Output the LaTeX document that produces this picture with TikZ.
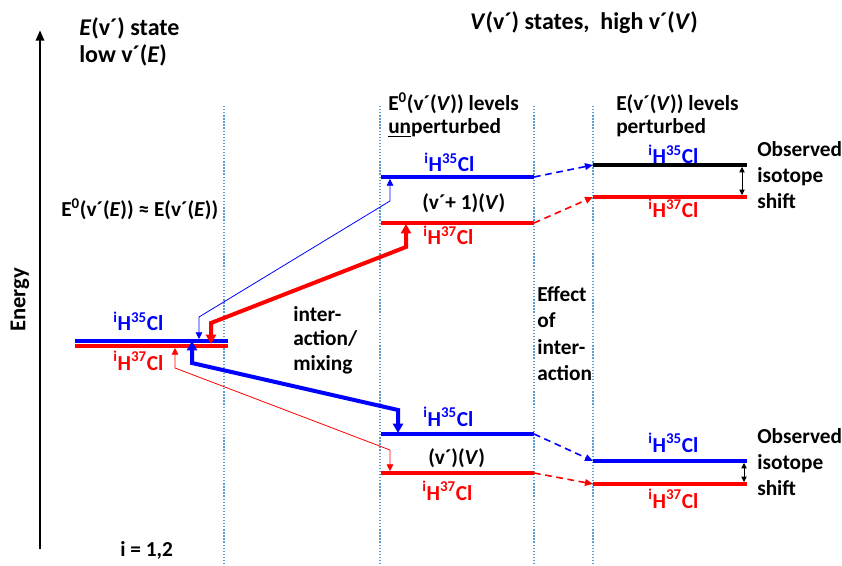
\documentclass[tikz,border=0pt]{standalone}
\usepackage{fontspec}
\setmainfont{Carlito}
\usetikzlibrary{arrows.meta}
\definecolor{lvblue}{RGB}{0,0,255}
\definecolor{lvred}{RGB}{255,0,0}
\definecolor{gridblue}{RGB}{91,155,213}
\newcommand{\HCl}[1]{\textsuperscript{i}H\textsuperscript{#1}Cl}
\begin{document}
\begin{tikzpicture}[x=0.75pt,y=-0.75pt,
  txt/.style={font=\fontsize{16}{18}\selectfont\bfseries, inner sep=0pt, align=left},
  head/.style={font=\fontsize{18}{20.5}\selectfont\bfseries, inner sep=0pt, align=left},
  bltxt/.style={txt, text=lvblue},
  rdtxt/.style={txt, text=lvred},
  grid/.style={draw=gridblue, line width=0.8pt, dash pattern=on 1pt off 1.3pt},
  blevel/.style={draw=lvblue, line width=2.3pt},
  rlevel/.style={draw=lvred, line width=2.3pt},
  klevel/.style={draw=black, line width=2.3pt},
  thinarr/.style={line width=0.6pt, {Triangle[length=5pt,width=5pt]}-{Triangle[length=5pt,width=5pt]}},
  thickarr/.style={line width=3pt, {Triangle[length=7pt,width=7.5pt]}-{Triangle[length=7pt,width=7.5pt]}},
  dasharr/.style={line width=1.2pt, dash pattern=on 5pt off 3.5pt, -{Triangle[length=6pt,width=5pt]}},
  shiftarr/.style={line width=0.6pt, {Triangle[length=4pt,width=4pt]}-{Triangle[length=4pt,width=4pt]}},
]
\useasboundingbox (0,0) rectangle (842,566);

% energy axis
\coordinate (axb) at (40,549);
\coordinate (axt) at (40,30);
\draw[line width=2pt, -{Triangle[length=8pt,width=6pt]}] (axb) -- (axt);
\node[font=\fontsize{17}{20}\selectfont\bfseries, rotate=90, inner sep=0pt] (energy) at (20,300) {Energy};

% dotted separators
\foreach \n/\x in {g1/224, g2/380, g3/534, g4/593}{
  \coordinate (\n t) at (\x,106);
  \coordinate (\n b) at (\x,566);
  \draw[grid] (\n t) -- (\n b);
}

% headings
\node[head, anchor=base west] (h1a) at (79,36) {\textit{E}(v´) state};
\node[head, anchor=base west] (h1b) at (79,63) {low v´(\textit{E})};
\node[head, anchor=base] (h2) at (584,30) {\textit{V}(v´) states,\ \ high v´(\textit{V})};
\node[txt, anchor=base west] (h3a) at (388,111) {E\textsuperscript{0}(v´(\textit{V})) levels};
\node[txt, anchor=base west] (h3b) at (388,134) {\underline{un}perturbed};
\node[txt, anchor=base west] (h4a) at (616,111) {E(v´(\textit{V})) levels};
\node[txt, anchor=base west] (h4b) at (616,134) {perturbed};
\node[txt, anchor=base west] (eq) at (61,217) {E\textsuperscript{0}(v´(\textit{E})) ≈ E(v´(\textit{E}))};

% left levels
\coordinate (Lbw) at (75,341); \coordinate (Lbe) at (228,341);
\coordinate (Lrw) at (75,346); \coordinate (Lre) at (228,346);
\draw[blevel] (Lbw) -- (Lbe);
\draw[rlevel] (Lrw) -- (Lre);
\node[bltxt, anchor=base west] (lb) at (113,331) {\HCl{35}};
\node[rdtxt, anchor=base west] (lr) at (113,370) {\HCl{37}};

% column 1 top
\coordinate (Ubw) at (381,177); \coordinate (Ube) at (534,177);
\coordinate (Urw) at (381,223); \coordinate (Ure) at (534,223);
\draw[blevel] (Ubw) -- (Ube);
\draw[rlevel] (Urw) -- (Ure);
\node[bltxt, anchor=base west] (ub) at (424,172) {\HCl{35}};
\node[txt, anchor=base west] (uv) at (422,210) {(v´+ 1)(\textit{V})};
\node[rdtxt, anchor=base west] (ur) at (423,245) {\HCl{37}};

% column 1 bottom
\coordinate (Dbw) at (381,434); \coordinate (Dbe) at (534,434);
\coordinate (Drw) at (381,473); \coordinate (Dre) at (534,473);
\draw[blevel] (Dbw) -- (Dbe);
\draw[rlevel] (Drw) -- (Dre);
\node[bltxt, anchor=base west] (db) at (423,426) {\HCl{35}};
\node[txt, anchor=base west] (dv) at (428,464) {(v´)(\textit{V})};
\node[rdtxt, anchor=base west] (dr) at (422,500) {\HCl{37}};

% column 2 top
\coordinate (Pbw) at (593,165); \coordinate (Pbe) at (747,165);
\coordinate (Prw) at (593,197); \coordinate (Pre) at (747,197);
\draw[klevel] (Pbw) -- (Pbe);
\draw[rlevel] (Prw) -- (Pre);
\node[bltxt, anchor=base west] (pb) at (648,164) {\HCl{35}};
\node[rdtxt, anchor=base west] (pr) at (648,218) {\HCl{37}};
\coordinate (s1t) at (742,167); \coordinate (s1b) at (742,195);
\draw[shiftarr] (s1t) -- (s1b);
\node[txt, anchor=base west] (o1a) at (757,157) {Observed};
\node[txt, anchor=base west] (o1b) at (757,183) {isotope};
\node[txt, anchor=base west] (o1c) at (757,209) {shift};

% column 2 bottom
\coordinate (Qbw) at (593,461); \coordinate (Qbe) at (747,461);
\coordinate (Qrw) at (593,484); \coordinate (Qre) at (747,484);
\draw[blevel] (Qbw) -- (Qbe);
\draw[rlevel] (Qrw) -- (Qre);
\node[bltxt, anchor=base west] (qb) at (648,452) {\HCl{35}};
\node[rdtxt, anchor=base west] (qr) at (648,508) {\HCl{37}};
\coordinate (s2t) at (744,463); \coordinate (s2b) at (744,482);
\draw[shiftarr] (s2t) -- (s2b);
\node[txt, anchor=base west] (o2a) at (757,443) {Observed};
\node[txt, anchor=base west] (o2b) at (757,469) {isotope};
\node[txt, anchor=base west] (o2c) at (757,495) {shift};

% dashed transfers
\draw[dasharr, draw=lvblue] (Ube) -- (Pbw);
\draw[dasharr, draw=lvred] (Ure) -- (Prw);
\draw[dasharr, draw=lvblue] (Dbe) -- (Qbw);
\draw[dasharr, draw=lvred] (Dre) -- (Qrw);

% middle labels
\node[txt, anchor=base west] (m1) at (293,322) {inter-};
\node[txt, anchor=base west] (m2) at (293,346) {action/};
\node[txt, anchor=base west] (m3) at (293,370) {mixing};
\node[txt, anchor=base west] (e1) at (537,302) {Effect};
\node[txt, anchor=base west] (e2) at (537,328) {of};
\node[txt, anchor=base west] (e3) at (537,354) {inter-};
\node[txt, anchor=base west] (e4) at (537,380) {action};
\node[txt, anchor=base west] (iv) at (120,556) {i = 1,2};

% interaction arrows
\coordinate (tb1) at (199,339); \coordinate (tb2) at (199,317);
\coordinate (tb3) at (390,201); \coordinate (tb4) at (390,179);
\draw[thinarr, draw=lvblue] (tb1) -- (tb2) -- (tb3) -- (tb4);

\coordinate (kr1) at (211,344); \coordinate (kr2) at (211,323);
\coordinate (kr3) at (406,247); \coordinate (kr4) at (406,224);
\draw[thickarr, draw=lvred] (kr1) -- (kr2) -- (kr3) -- (kr4);

\coordinate (kb1) at (192,341); \coordinate (kb2) at (192,363);
\coordinate (kb3) at (398,410); \coordinate (kb4) at (398,433);
\draw[thickarr, draw=lvblue] (kb1) -- (kb2) -- (kb3) -- (kb4);

\coordinate (tr1) at (175,348); \coordinate (tr2) at (175,368);
\coordinate (tr3) at (390,450); \coordinate (tr4) at (390,471);
\draw[thinarr, draw=lvred] (tr1) -- (tr2) -- (tr3) -- (tr4);
\end{tikzpicture}
\end{document}
